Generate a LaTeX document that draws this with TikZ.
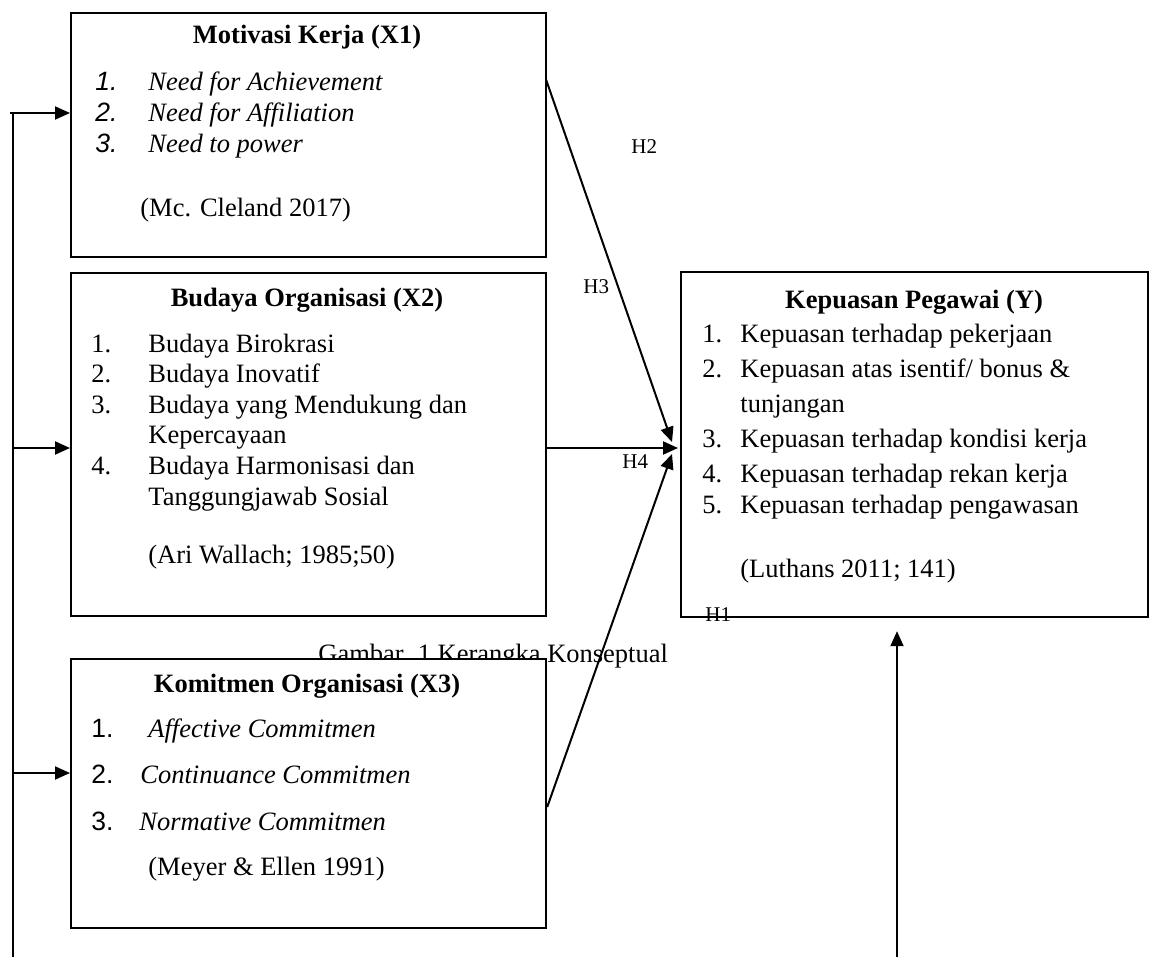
\documentclass[tikz,border=0pt]{standalone}
\usepackage{fontspec}
\setmainfont{Liberation Serif}
\newfontfamily\arial{Liberation Sans}
\usetikzlibrary{arrows.meta,calc}
\begin{document}
\begin{tikzpicture}[x=0.5pt,y=-0.5pt,
  box/.style={draw,line width=1.1pt,fill=white,inner sep=0pt,anchor=north west},
  txt/.style={anchor=base west,inner sep=0pt,font=\fontsize{13.25}{15}\selectfont},
  itx/.style={anchor=base west,inner sep=0pt,font=\fontsize{13.25}{15}\selectfont\itshape},
  ttl/.style={anchor=base,inner sep=0pt,font=\fontsize{13.25}{15}\selectfont\bfseries},
  num/.style={anchor=base west,inner sep=0pt,font=\fontsize{13.25}{15}\selectfont\arial},
  inum/.style={anchor=base west,inner sep=0pt,font=\fontsize{13.25}{15}\selectfont\arial\itshape},
  hl/.style={anchor=base west,inner sep=0pt,font=\fontsize{10.5}{12}\selectfont},
  con/.style={line width=1pt,-{Triangle[length=7.5pt,width=6.5pt]}},
  ln/.style={line width=1pt}]
\useasboundingbox (0,0) rectangle (1149,957);
% caption (partly hidden by box X3)
\node[txt] (cap) at (318,662) {Gambar. 1 Kerangka Konseptual};
% boxes
\node[box,minimum width=237.5pt,minimum height=122pt] (x1) at (70,12) {};
\node[box,minimum width=237.5pt,minimum height=171.5pt] (x2) at (70,272) {};
\node[box,minimum width=237.5pt,minimum height=134.5pt] (x3) at (70,658) {};
\node[box,minimum width=233.5pt,minimum height=172.5pt] (yb) at (680,271) {};
% X1 text
\node[ttl] (x1t) at (307,44) {Motivasi Kerja (X1)};
\node[inum] (x1n1) at (95,91) {1.};
\node[inum] (x1n2) at (95,122) {2.};
\node[inum] (x1n3) at (95,153) {3.};
\node[itx] (x1a) at (148,91) {Need for Achievement};
\node[itx] (x1b) at (148,122) {Need for Affiliation};
\node[itx] (x1c) at (148,153) {Need to power};
\node[txt] (x1s) at (140,216) {(Mc. Cleland 2017)};
% X2 text
\node[ttl] (x2t) at (307,306) {Budaya Organisasi (X2)};
\node[txt] (x2n1) at (91,352) {1.};
\node[txt] (x2n2) at (91,382) {2.};
\node[txt] (x2n3) at (91,413) {3.};
\node[txt] (x2n4) at (91,474) {4.};
\node[txt] (x2a) at (148,352) {Budaya Birokrasi};
\node[txt] (x2b) at (148,382) {Budaya Inovatif};
\node[txt] (x2c) at (148,413) {Budaya yang Mendukung dan};
\node[txt] (x2d) at (148,443) {Kepercayaan};
\node[txt] (x2e) at (148,474) {Budaya Harmonisasi dan};
\node[txt] (x2f) at (148,505) {Tanggungjawab Sosial};
\node[txt] (x2s) at (148,563) {(Ari Wallach; 1985;50)};
% X3 text
\node[ttl] (x3t) at (307,692) {Komitmen Organisasi (X3)};
\node[num] (x3n1) at (91,737) {1.};
\node[num] (x3n2) at (91,783) {2.};
\node[num] (x3n3) at (91,830) {3.};
\node[itx] (x3a) at (148,737) {Affective Commitmen};
\node[itx] (x3b) at (140,783) {Continuance Commitmen};
\node[itx] (x3c) at (139,830) {Normative Commitmen};
\node[txt] (x3s) at (148,875) {(Meyer \& Ellen 1991)};
% Y text
\node[ttl] (yt) at (914,308) {Kepuasan Pegawai (Y)};
\node[txt] (yn1) at (702,342) {1.};
\node[txt] (yn2) at (702,377) {2.};
\node[txt] (yn3) at (702,447) {3.};
\node[txt] (yn4) at (702,482) {4.};
\node[txt] (yn5) at (702,513) {5.};
\node[txt] (ya) at (740,342) {Kepuasan terhadap pekerjaan};
\node[txt] (yb2) at (740,377) {Kepuasan atas isentif/ bonus \&};
\node[txt] (yc) at (740,412) {tunjangan};
\node[txt] (yd) at (740,447) {Kepuasan terhadap kondisi kerja};
\node[txt] (ye) at (740,482) {Kepuasan terhadap rekan kerja};
\node[txt] (yf) at (740,513) {Kepuasan terhadap pengawasan};
\node[txt] (ys) at (740,577) {(Luthans 2011; 141)};
% hypothesis labels
\node[hl] (h2) at (631,154) {H2};
\node[hl] (h3) at (583,293) {H3};
\node[hl] (h4) at (622,468) {H4};
\node[hl] (h1) at (705,621) {H1};
% connectors
\coordinate (lb) at (13,957);
\coordinate (bb) at (897,957);
\coordinate (a1) at ($(x1.north west)+(0,101)$);
\coordinate (a2) at ($(x2.north west)+(0,176)$);
\coordinate (a3) at ($(x3.north west)+(0,115)$);
\draw[ln] (lb) -- (lb |- a1);
\draw[con] ($(lb |- a1)+(-3,0)$) -- (a1);
\draw[con] (lb |- a2) -- (a2);
\draw[con] (lb |- a3) -- (a3);
\coordinate (yin1) at ($(yb.north west)+(-8,171)$);
\coordinate (yin2) at ($(yb.north west)+(-2,177)$);
\coordinate (yin3) at ($(yb.north west)+(-8,183)$);
\draw[con] ($(x1.north east)+(-1,68)$) -- (yin1);
\draw[con] ($(x2.north east)+(0,176)$) -- (yin2);
\draw[con] ($(x3.north east)+(0,149)$) -- (yin3);
\draw[con] (bb) -- ($(bb |- yb.south)+(0,13)$);
\end{tikzpicture}
\end{document}
